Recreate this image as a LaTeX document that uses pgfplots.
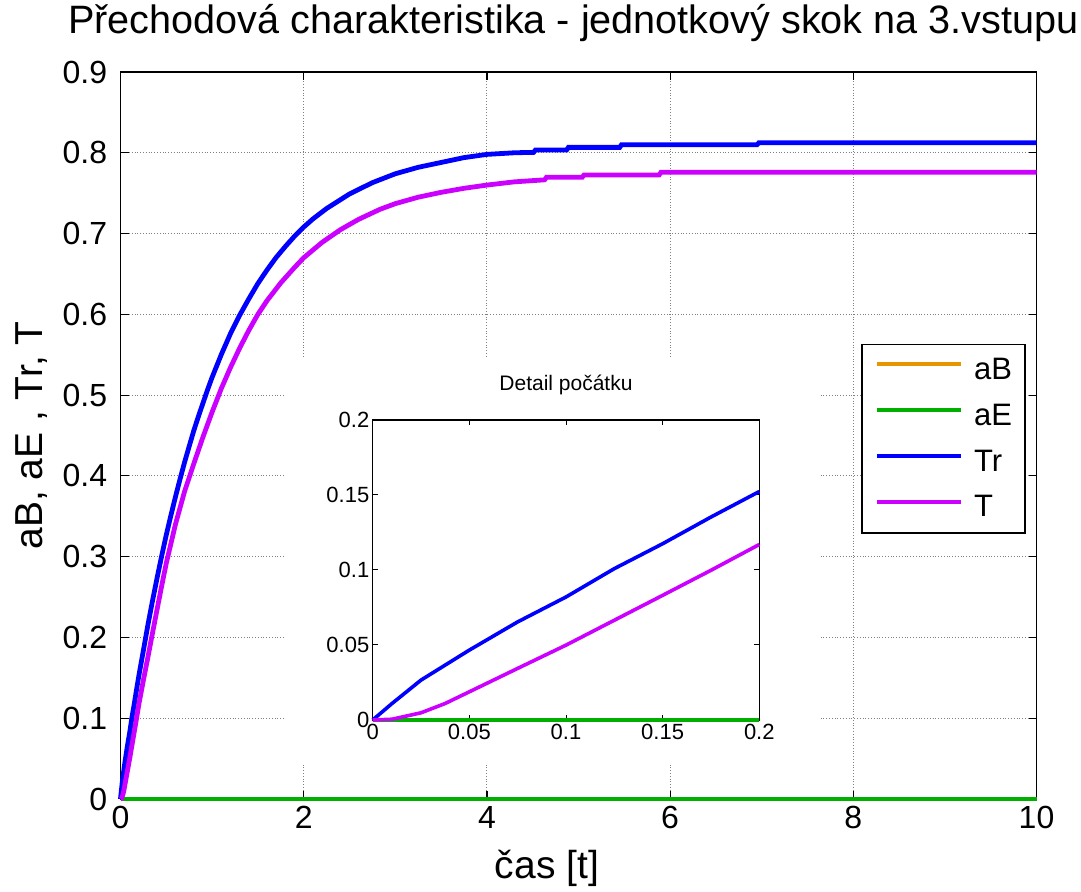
\documentclass[border=0pt]{standalone}
\usepackage{fontspec}
\setmainfont{Liberation Sans}
\usepackage{pgfplots}
\usepackage{pgfplotstable}
\pgfplotsset{compat=1.18}

\definecolor{cB}{RGB}{230,150,0}
\definecolor{cE}{RGB}{0,175,0}
\definecolor{cTr}{RGB}{0,0,255}
\definecolor{cT}{RGB}{204,0,255}

\pgfplotstableread{
t v
0 0
10 0
}\zeroMain

\pgfplotstableread{
t v
0 0
0.2 0
}\zeroInset

\pgfplotstableread{
t v
0 0
0.01 0.011
0.025 0.0266
0.05 0.0466
0.075 0.0654
0.1 0.0820
0.125 0.1009
0.15 0.1175
0.175 0.1353
0.2 0.1523
0.25 0.184
0.3 0.216
0.35 0.2457
0.4 0.274
0.45 0.3011
0.5 0.327
0.55 0.3510
0.6 0.374
0.65 0.3960
0.7 0.417
0.75 0.4367
0.8 0.456
0.85 0.4734
0.9 0.490
0.95 0.5065
1.0 0.522
1.1 0.5501
1.2 0.576
1.3 0.5987
1.4 0.619
1.5 0.6382
1.6 0.655
1.7 0.6705
1.8 0.684
1.9 0.6967
2.0 0.708
2.1 0.7180
2.25 0.731
2.5 0.749
2.75 0.763
3.0 0.774
3.25 0.782
3.5 0.788
3.75 0.794
4.0 0.798
4.3 0.800
4.51 0.8005
4.53 0.8034
4.87 0.8034
4.89 0.8067
5.45 0.8067
5.47 0.8100
6.95 0.8100
6.97 0.8125
10 0.8125
}\dataTr

\pgfplotstableread{
t v
0 0
0.01 0.0005
0.025 0.0048
0.0375 0.011
0.05 0.0188
0.075 0.0344
0.1 0.0499
0.125 0.0665
0.15 0.0831
0.175 0.0998
0.2 0.117
0.25 0.147
0.3 0.176
0.34 0.200
0.4 0.235
0.45 0.264
0.5 0.292
0.6 0.340
0.7 0.381
0.8 0.415
0.9 0.448
1.0 0.479
1.1 0.508
1.2 0.534
1.3 0.558
1.4 0.580
1.5 0.600
1.6 0.617
1.75 0.639
1.9 0.658
2.0 0.670
2.2 0.689
2.4 0.7047
2.6 0.7176
2.833 0.730
3.0 0.737
3.25 0.745
3.5 0.751
3.75 0.756
4.0 0.760
4.3 0.764
4.63 0.7665
4.65 0.7696
5.04 0.7696
5.06 0.7725
5.88 0.7725
5.9 0.7758
10 0.7758
}\dataT

\begin{document}
\begin{tikzpicture}
\useasboundingbox (0,0) rectangle (540.5pt,446pt);
\begin{axis}[
  at={(60.25pt,46.5pt)}, anchor=south west,
  scale only axis, width=458pt, height=363.5pt,
  xmin=0, xmax=10, ymin=0, ymax=0.9,
  xtick={0,2,4,6,8,10},
  ytick={0,0.1,0.2,0.3,0.4,0.5,0.6,0.7,0.8,0.9},
  scaled ticks=false,
  /pgf/number format/assume math mode=true,
  yticklabel style={/pgf/number format/fixed, /pgf/number format/precision=1, inner xsep=6.5pt},
  tick label style={font=\fontsize{16}{19}\selectfont},
  grid=major,
  major grid style={densely dotted, gray, line width=0.5pt},
  tick align=inside, major tick length=4pt,
  tick style={black, line width=0.6pt},
  axis line style={line width=0.8pt},
  title={Přechodová charakteristika - jednotkový skok na 3.vstupu},
  title style={at={(axis description cs:0.4945,1.0371)}, anchor=base, font=\fontsize{19.8}{24}\selectfont},
  xlabel={čas [t]},
  xlabel style={at={(axis description cs:0.4656,-0.110)}, anchor=base, font=\fontsize{19.5}{23}\selectfont},
  ylabel={aB, aE , Tr, T},
  ylabel style={at={(axis description cs:-0.0857,0.5)}, rotate=0, anchor=base, font=\fontsize{19.5}{23}\selectfont},
  clip=false,
  legend cell align=left,
  legend image code/.code={\path[draw=none,fill=none] (0pt,-2pt) rectangle (42pt,4pt); \draw[#1,line width=2pt] (0pt,3pt) -- (42pt,3pt);},
  legend style={at={(0.9885,0.626)}, anchor=north east, draw=black, line width=0.8pt, fill=white,
    font=\fontsize{15.5}{18}\selectfont, inner xsep=6.6pt, inner ysep=6.6pt,
    row sep=10.8pt, column sep=5.5pt,
    nodes={inner sep=0pt}},
]
\addplot[cB, line width=2.4pt] table[x=t,y=v] {\zeroMain};
\addlegendentry{aB}
\addplot[cE, line width=2.4pt] table[x=t,y=v] {\zeroMain};
\addlegendentry{aE}
\addplot[cTr, line width=2.4pt] table[x=t,y=v] {\dataTr};
\addlegendentry{Tr}
\addplot[cT, line width=2.4pt] table[x=t,y=v] {\dataT};
\addlegendentry{T}
\fill[white] (axis cs:1.807,0.0421) rectangle (axis cs:7.626,0.5472);
\end{axis}
\begin{axis}[
  at={(186.35pt,86pt)}, anchor=south west,
  scale only axis, width=193.3pt, height=150pt,
  xmin=0, xmax=0.2, ymin=0, ymax=0.2,
  xtick={0,0.05,0.1,0.15,0.2},
  ytick={0,0.05,0.1,0.15,0.2},
  scaled ticks=false,
  /pgf/number format/assume math mode=true,
  tick label style={font=\fontsize{11}{13}\selectfont, /pgf/number format/fixed, /pgf/number format/precision=2},
  xticklabel style={inner sep=2pt},
  yticklabel style={inner sep=1.5pt},
  tick align=inside, major tick length=2.5pt,
  tick style={black, line width=0.5pt},
  axis line style={line width=0.7pt},
  axis background/.style={fill=white},
  title={Detail počátku},
  title style={at={(axis description cs:0.5,1.0567)}, anchor=base, font=\fontsize{10.5}{12}\selectfont},
  clip=false,
]
\addplot[cB, line width=1.8pt] table[x=t,y=v] {\zeroInset};
\addplot[cE, line width=1.8pt] table[x=t,y=v] {\zeroInset};
\addplot[cTr, line width=1.8pt, restrict x to domain=0:0.2] table[x=t,y=v] {\dataTr};
\addplot[cT, line width=1.8pt, restrict x to domain=0:0.2] table[x=t,y=v] {\dataT};
\end{axis}
\end{tikzpicture}
\end{document}
